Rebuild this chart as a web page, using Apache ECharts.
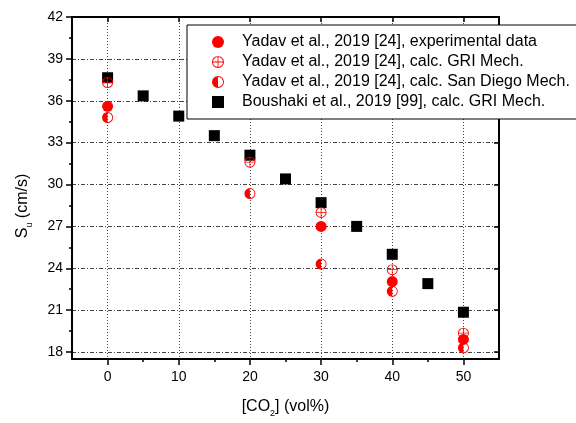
<!DOCTYPE html>
<html>
<head>
<meta charset="utf-8">
<script src="https://cdn.jsdelivr.net/npm/echarts@6/dist/echarts.min.js"></script>
</head>
<body style="margin:0;background:#fff;">
<div id="main" style="width:576px;height:423px;"></div>
<script type="text/javascript">

    // 数据
    var yadavX = [0, 20, 30, 40, 50];
    var yadavExp = [35.6, null, 27.0, 23.05, 18.9];      // experimental data
    var yadavGri = [37.3, 31.6, 28.0, 23.9, 19.35];      // calc. GRI Mech.
    var yadavSd = [34.8, 29.35, 24.3, 22.35, 18.3];      // calc. San Diego Mech.
    var boushakiX = [0, 5, 10, 15, 20, 25, 30, 35, 40, 45, 50];
    var boushakiGri = [37.65, 36.35, 34.9, 33.5, 32.1, 30.4, 28.7, 27.0, 25.0, 22.9, 20.85];

    var xTicks = [0, 10, 20, 30, 40, 50];
    var xMinor = [5, 15, 25, 35, 45];
    var yTicks = [18, 21, 24, 27, 30, 33, 36, 39, 42];
    var yMinor = [19.5, 22.5, 25.5, 28.5, 31.5, 34.5, 37.5, 40.5];

    var names = [
        'Yadav et al., 2019 [24], experimental data',
        'Yadav et al., 2019 [24], calc. GRI Mech.',
        'Yadav et al., 2019 [24], calc. San Diego Mech.',
        'Boushaki et al., 2019 [99], calc. GRI Mech.'
    ];

    function pairs(xs, ys) {
        var out = [];
        for (var i = 0; i < xs.length; i++) {
            if (ys[i] != null) out.push([xs[i], ys[i]]);
        }
        return out;
    }

    // 圆加十字, 半填充圆
    var crossCircle = 'path://M10 0A10 10 0 1 1 10 20A10 10 0 1 1 10 0ZM10 1.6A8.4 8.4 0 1 0 10 18.4A8.4 8.4 0 1 0 10 1.6ZM9.3 0L10.7 0L10.7 20L9.3 20ZM0 9.3L20 9.3L20 10.7L0 10.7Z';
    var halfCircle = 'path://M10 0A10 10 0 1 1 10 20A10 10 0 1 1 10 0ZM10 1.6A8.4 8.4 0 1 0 10 18.4A8.4 8.4 0 1 0 10 1.6ZM10 20A10 10 0 0 1 10 0Z';

    var font = 'Liberation Sans, Arial, sans-serif';
    var axisLine = {show: true, onZero: false, lineStyle: {color: '#000', width: 2}};
    var noLine = {show: false, onZero: false};
    var subStyle = {fontFamily: font, fontSize: 9, color: '#000', lineHeight: 8, verticalAlign: 'bottom'};

    var myChart = echarts.init(document.getElementById('main'));

    var option = {
        animation: false,
        backgroundColor: '#fff',
        grid: {left: 72, right: 77, top: 17, bottom: 59},
        legend: {
            orient: 'vertical',
            left: 187,
            top: 25,
            padding: [9, 10, 9, 25],
            itemGap: 4,
            itemWidth: 12,
            itemHeight: 12,
            backgroundColor: '#fff',
            borderColor: '#000',
            borderWidth: 1,
            textStyle: {fontFamily: font, fontSize: 16, color: '#000', lineHeight: 16, padding: [0, 0, 0, 13]},
            data: [
                {name: names[0], icon: 'circle'},
                {name: names[1]},
                {name: names[2]},
                {name: names[3], icon: 'rect'}
            ]
        },
        xAxis: [{
            type: 'value',
            min: -5,
            max: 55,
            position: 'bottom',
            name: '[CO{sub|2}] (vol%)',
            nameLocation: 'middle',
            nameGap: 37,
            nameTextStyle: {fontFamily: font, fontSize: 16, color: '#000', lineHeight: 22, rich: {sub: subStyle}},
            axisLine: axisLine,
            axisTick: {show: true, inside: false, length: 6, customValues: xTicks, lineStyle: {color: '#000', width: 1.5}},
            axisLabel: {customValues: xTicks, fontFamily: font, fontSize: 14, color: '#000', margin: 11},
            splitLine: {show: true, lineStyle: {color: '#444', width: 1, type: [1, 2]}}
        }, {
            type: 'value',
            min: -5,
            max: 55,
            position: 'bottom',
            axisLine: noLine,
            axisTick: {show: true, inside: false, length: 3, customValues: xMinor, lineStyle: {color: '#000', width: 1.5}},
            axisLabel: {show: false},
            splitLine: {show: false}
        }, {
            type: 'value',
            min: -5,
            max: 55,
            position: 'top',
            axisLine: axisLine,
            axisTick: {show: true, inside: true, length: 5, customValues: xTicks, lineStyle: {color: '#000', width: 1.5}},
            axisLabel: {show: false},
            splitLine: {show: false}
        }],
        yAxis: [{
            type: 'value',
            min: 17.5,
            max: 42,
            position: 'left',
            name: 'S{sub|u} (cm/s)',
            nameLocation: 'middle',
            nameGap: 38,
            nameTextStyle: {fontFamily: font, fontSize: 16, color: '#000', lineHeight: 22, padding: [0, 36, 0, 0], rich: {sub: subStyle}},
            axisLine: axisLine,
            axisTick: {show: true, inside: false, length: 6, customValues: yTicks, lineStyle: {color: '#000', width: 1.5}},
            axisLabel: {customValues: yTicks, fontFamily: font, fontSize: 14, color: '#000', margin: 9},
            splitLine: {show: true, lineStyle: {color: '#444', width: 1, type: [4, 2, 1, 2]}}
        }, {
            type: 'value',
            min: 17.5,
            max: 42,
            position: 'left',
            axisLine: noLine,
            axisTick: {show: true, inside: false, length: 3, customValues: yMinor, lineStyle: {color: '#000', width: 1.5}},
            axisLabel: {show: false},
            splitLine: {show: false}
        }, {
            type: 'value',
            min: 17.5,
            max: 42,
            position: 'right',
            axisLine: axisLine,
            axisTick: {show: true, inside: true, length: 5, customValues: yTicks, lineStyle: {color: '#000', width: 1.5}},
            axisLabel: {show: false},
            splitLine: {show: false}
        }],
        series: [{
            name: names[3],
            type: 'scatter',
            symbol: 'rect',
            symbolSize: 11,
            itemStyle: {color: '#000', opacity: 1},
            data: pairs(boushakiX, boushakiGri)
        }, {
            name: names[0],
            type: 'scatter',
            symbol: 'circle',
            symbolSize: 11,
            itemStyle: {color: '#ff0000', opacity: 1},
            data: pairs(yadavX, yadavExp)
        }, {
            name: names[2],
            type: 'scatter',
            symbol: halfCircle,
            symbolSize: 11,
            itemStyle: {color: '#ff0000', opacity: 1},
            data: pairs(yadavX, yadavSd)
        }, {
            name: names[1],
            type: 'scatter',
            symbol: crossCircle,
            symbolSize: 11,
            itemStyle: {color: '#ff0000', opacity: 1},
            data: pairs(yadavX, yadavGri)
        }]
    };

    myChart.setOption(option);
</script>
</body>
</html>
